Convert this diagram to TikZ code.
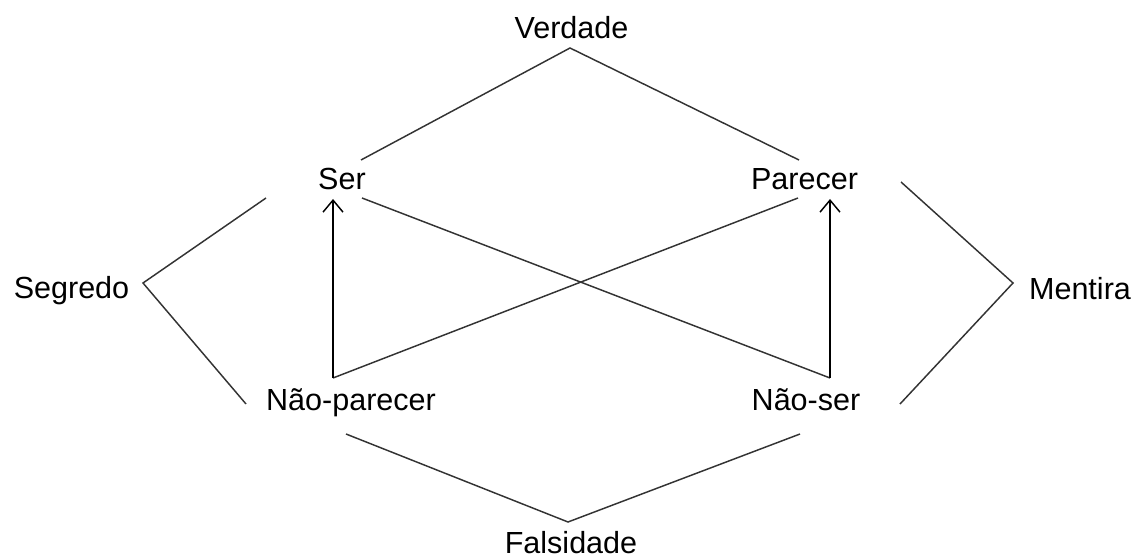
\documentclass[tikz,border=0pt]{standalone}
\usepackage{fontspec}
\setmainfont{Liberation Sans}
\usetikzlibrary{arrows.meta}
\begin{document}
\begin{tikzpicture}[x=0.75pt,y=-0.75pt,
  lbl/.style={anchor=base,inner sep=0pt,font=\fontsize{22.9}{27}\selectfont},
  conn/.style={line width=1.1pt,draw=black!80},
  arr/.style={line width=1.1pt,draw=black,-{Straight Barb[length=9pt,width=15pt]}}]
\useasboundingbox (0,0) rectangle (1138,559);
% labels
\node[lbl] (verdade) at (571.5,39) {Verdade};
\node[lbl] (ser) at (342,190) {Ser};
\node[lbl] (parecer) at (804.5,190) {Parecer};
\node[lbl] (segredo) at (71.5,299) {Segredo};
\node[lbl] (mentira) at (1080,300) {Mentira};
\node[lbl] (naoparecer) at (351,410) {Não-parecer};
\node[lbl] (naoser) at (806,410) {Não-ser};
\node[lbl] (falsidade) at (571,553) {Falsidade};
% connector points
\coordinate (vA) at (570,48);
\coordinate (serT) at (361,160);
\coordinate (parT) at (799,160);
\coordinate (serB) at (362,198);
\coordinate (parB) at (798,198);
\coordinate (serTip) at (333,199);
\coordinate (parTip) at (830,199);
\coordinate (npBase) at (333,378);
\coordinate (nsBase) at (830,378);
\coordinate (sgA) at (143,283);
\coordinate (sgT) at (266,198);
\coordinate (sgB) at (246,404);
\coordinate (mtA) at (1013,283);
\coordinate (mtT) at (901,182);
\coordinate (mtB) at (900,404);
\coordinate (fsA) at (568,522);
\coordinate (fsL) at (346,434);
\coordinate (fsR) at (800,434);
% connectors
\draw[conn] (serT) -- (vA) -- (parT);
\draw[conn] (serB) -- (nsBase);
\draw[conn] (parB) -- (npBase);
\draw[arr] (npBase) -- (serTip);
\draw[arr] (nsBase) -- (parTip);
\draw[conn] (sgT) -- (sgA) -- (sgB);
\draw[conn] (mtT) -- (mtA) -- (mtB);
\draw[conn] (fsL) -- (fsA) -- (fsR);
\end{tikzpicture}
\end{document}
